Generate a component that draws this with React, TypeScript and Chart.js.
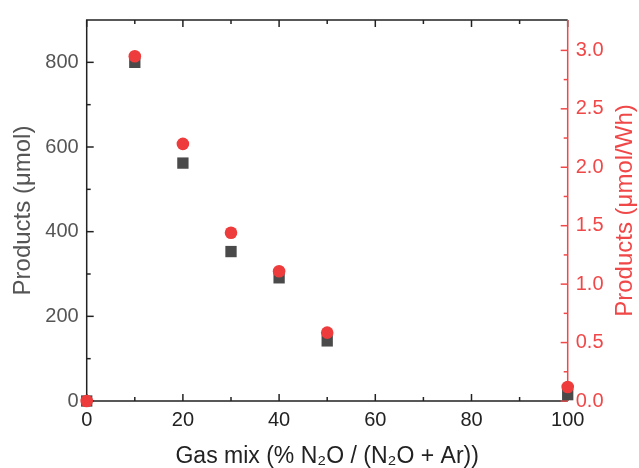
import React, { useEffect, useRef } from "react";
import { Chart, registerables } from "chart.js";

Chart.register(...registerables);

// ---- data ----
const gasMix = [0, 10, 20, 30, 40, 50, 100];
const productsUmol = [0, 800, 562, 353, 291, 142, 15];
const productsUmolPerWh = [0, 2.95, 2.2, 1.44, 1.11, 0.585, 0.12];

// ---- ticks ----
const xTicks = [0, 20, 40, 60, 80, 100];
const xMinorTicks = [10, 30, 50, 70, 90];
const yTicks = [0, 200, 400, 600, 800];
const yMinorTicks = [100, 300, 500, 700];
const y1Ticks = [0, 0.5, 1.0, 1.5, 2.0, 2.5, 3.0];
const y1MinorTicks = [0.25, 0.75, 1.25, 1.75, 2.25, 2.75];

const xTitle = "Gas mix (% N₂O / (N₂O + Ar))";
const yTitle = "Products (μmol)";
const y1Title = "Products (μmol/Wh)";

const RED_POINT = "#ee3b3b";
const RED_AXIS = "#f04848";
const GRAY_POINT = "#4a4a4a";
const AXIS = "#222222";
const LEFT_TEXT = "#555555";
const FONT = "'Liberation Sans', Arial, Helvetica, sans-serif";

const frameTicks = {
  id: "frameTicks",
  beforeDatasetsDraw(chart: any) {
    const { ctx, chartArea, scales } = chart;
    const { left, right, top, bottom } = chartArea;
    const line = (x1: number, y1: number, x2: number, y2: number) => {
      ctx.beginPath();
      ctx.moveTo(x1, y1);
      ctx.lineTo(x2, y2);
      ctx.stroke();
    };
    ctx.save();
    ctx.lineWidth = 1.5;
    ctx.strokeStyle = AXIS;
    ctx.beginPath();
    ctx.moveTo(right, top);
    ctx.lineTo(left, top);
    ctx.lineTo(left, bottom);
    ctx.lineTo(right, bottom);
    ctx.stroke();
    xTicks.forEach((v) => {
      const x = scales.x.getPixelForValue(v);
      line(x, bottom, x, bottom - 7);
      line(x, top, x, top + 7);
    });
    xMinorTicks.forEach((v) => {
      const x = scales.x.getPixelForValue(v);
      line(x, bottom, x, bottom - 4);
      line(x, top, x, top + 4);
    });
    yTicks.forEach((v) => {
      const y = scales.y.getPixelForValue(v);
      line(left, y, left + 7, y);
    });
    yMinorTicks.forEach((v) => {
      const y = scales.y.getPixelForValue(v);
      line(left, y, left + 4, y);
    });
    ctx.strokeStyle = RED_AXIS;
    line(right, top, right, bottom);
    y1Ticks.forEach((v) => {
      const y = scales.y1.getPixelForValue(v);
      line(right, y, right - 7, y);
    });
    y1MinorTicks.forEach((v) => {
      const y = scales.y1.getPixelForValue(v);
      line(right, y, right - 4, y);
    });
    ctx.restore();
  },
  afterDraw(chart: any) {
    const { ctx, chartArea } = chart;
    ctx.save();
    ctx.fillStyle = RED_AXIS;
    ctx.font = `24px ${FONT}`;
    ctx.textAlign = "center";
    ctx.textBaseline = "middle";
    ctx.translate(625, (chartArea.top + chartArea.bottom) / 2);
    ctx.rotate(-Math.PI / 2);
    ctx.fillText(y1Title, 0, 0);
    ctx.restore();
  },
};

export default function App() {
  const ref = useRef<HTMLCanvasElement | null>(null);

  useEffect(() => {
    if (!ref.current) return;
    const chart = new Chart(ref.current, {
      type: "scatter",
      data: {
        datasets: [
          {
            label: y1Title,
            data: gasMix.map((x, i) => ({ x, y: productsUmolPerWh[i] })),
            yAxisID: "y1",
            pointStyle: "circle",
            pointRadius: 6.3,
            pointHoverRadius: 6.3,
            backgroundColor: RED_POINT,
            borderWidth: 0,
            clip: false as any,
          },
          {
            label: yTitle,
            data: gasMix.map((x, i) => ({ x, y: productsUmol[i] })),
            yAxisID: "y",
            pointStyle: "rect",
            pointRadius: 8,
            pointHoverRadius: 8,
            backgroundColor: GRAY_POINT,
            borderWidth: 0,
            clip: false as any,
          },
        ],
      },
      options: {
        animation: false,
        responsive: false,
        layout: { padding: { top: 12.5, left: 0, right: 0, bottom: 0 } },
        plugins: { legend: { display: false }, tooltip: { enabled: false } },
        scales: {
          x: {
            type: "linear",
            min: 0,
            max: 100,
            afterBuildTicks: (s: any) => {
              s.ticks = xTicks.map((v) => ({ value: v }));
            },
            afterFit: (s: any) => {
              s.height = 67;
            },
            grid: { display: false, drawTicks: false },
            border: { display: false },
            ticks: {
              color: AXIS,
              font: { family: FONT, size: 20 },
              padding: 7,
              maxRotation: 0,
              autoSkip: false,
            },
            title: {
              display: true,
              text: xTitle,
              color: AXIS,
              font: { family: FONT, size: 23, lineHeight: 1 },
              padding: { top: 0, bottom: 0 },
            },
          },
          y: {
            type: "linear",
            position: "left",
            min: 0,
            max: 900,
            afterBuildTicks: (s: any) => {
              s.ticks = yTicks.map((v) => ({ value: v }));
            },
            afterFit: (s: any) => {
              s.width = 86.7;
            },
            grid: { display: false, drawTicks: false },
            border: { display: false },
            ticks: {
              color: LEFT_TEXT,
              font: { family: FONT, size: 20 },
              padding: 8,
              autoSkip: false,
            },
            title: {
              display: true,
              text: yTitle,
              color: LEFT_TEXT,
              font: { family: FONT, size: 24, lineHeight: 1 },
              padding: { top: 11, bottom: 0 },
            },
          },
          y1: {
            type: "linear",
            position: "right",
            min: 0,
            max: 3.26,
            afterBuildTicks: (s: any) => {
              s.ticks = y1Ticks.map((v) => ({ value: v }));
            },
            afterFit: (s: any) => {
              s.width = 71.3;
            },
            grid: { display: false, drawTicks: false },
            border: { display: false },
            ticks: {
              color: RED_AXIS,
              font: { family: FONT, size: 20 },
              padding: 8,
              autoSkip: false,
              callback: (v: any) => Number(v).toFixed(1),
            },
            title: { display: false },
          },
        },
      },
      plugins: [frameTicks],
    });
    return () => chart.destroy();
  }, []);

  return (
    <div style={{ position: "absolute", left: 0, top: 0, width: 639, height: 468, background: "#fff" }}>
      <canvas ref={ref} width={639} height={468} style={{ display: "block" }} />
    </div>
  );
}
